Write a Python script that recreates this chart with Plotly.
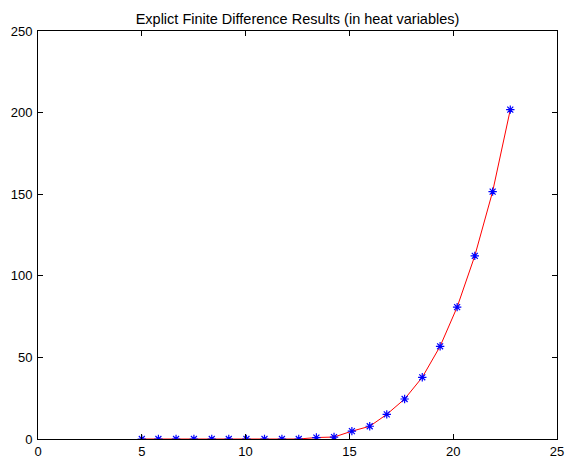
import plotly.graph_objects as go

x_vals = [5.00, 5.80, 6.65, 7.51, 8.37, 9.19, 10.04, 10.91, 11.75, 12.56, 13.41,
          14.26, 15.12, 15.98, 16.80, 17.66, 18.51, 19.37, 20.19, 21.04, 21.90, 22.75]
y_vals = [0, 0, 0, 0, 0, 0, 0, 0, 0, 0, 0.9,
          1.2, 4.8, 7.8, 15.1, 24.5, 37.8, 56.8, 80.8, 112.2, 151.6, 201.8]
title_text = "Explict Finite Difference Results (in heat variables)"
x_ticks = [0, 5, 10, 15, 20, 25]
y_ticks = [0, 50, 100, 150, 200, 250]

fig = go.Figure()
fig.add_trace(go.Scatter(x=x_vals, y=y_vals, mode="lines",
                         line=dict(color="red", width=1), showlegend=False))
fig.add_trace(go.Scatter(x=x_vals, y=y_vals, mode="markers",
                         marker=dict(symbol="asterisk-open", size=7, color="blue",
                                     line=dict(color="blue", width=1.2)),
                         showlegend=False))

axis_common = dict(showgrid=False, zeroline=False, showline=True, linecolor="black",
                   linewidth=1, mirror="ticks", ticks="inside", ticklen=5,
                   tickcolor="black", tickwidth=1,
                   tickfont=dict(family="Liberation Sans, Arial", size=13, color="black"),
                   automargin=False)

fig.update_xaxes(range=[0, 25], tickvals=x_ticks, ticktext=[str(t) for t in x_ticks], **axis_common)
fig.update_yaxes(range=[0, 250], tickvals=y_ticks, ticktext=[str(t) for t in y_ticks],
                 ticklabelstandoff=2, **axis_common)

fig.update_layout(
    width=566, height=458,
    margin=dict(l=38, r=9, t=31, b=19),
    paper_bgcolor="white", plot_bgcolor="white",
    title=dict(text=title_text, x=297.5 / 566, xanchor="center", y=1 - 18.5 / 458, yanchor="middle",
               font=dict(family="Liberation Sans, Arial", size=14.5, color="black")),
)

fig.write_html("out.html")
